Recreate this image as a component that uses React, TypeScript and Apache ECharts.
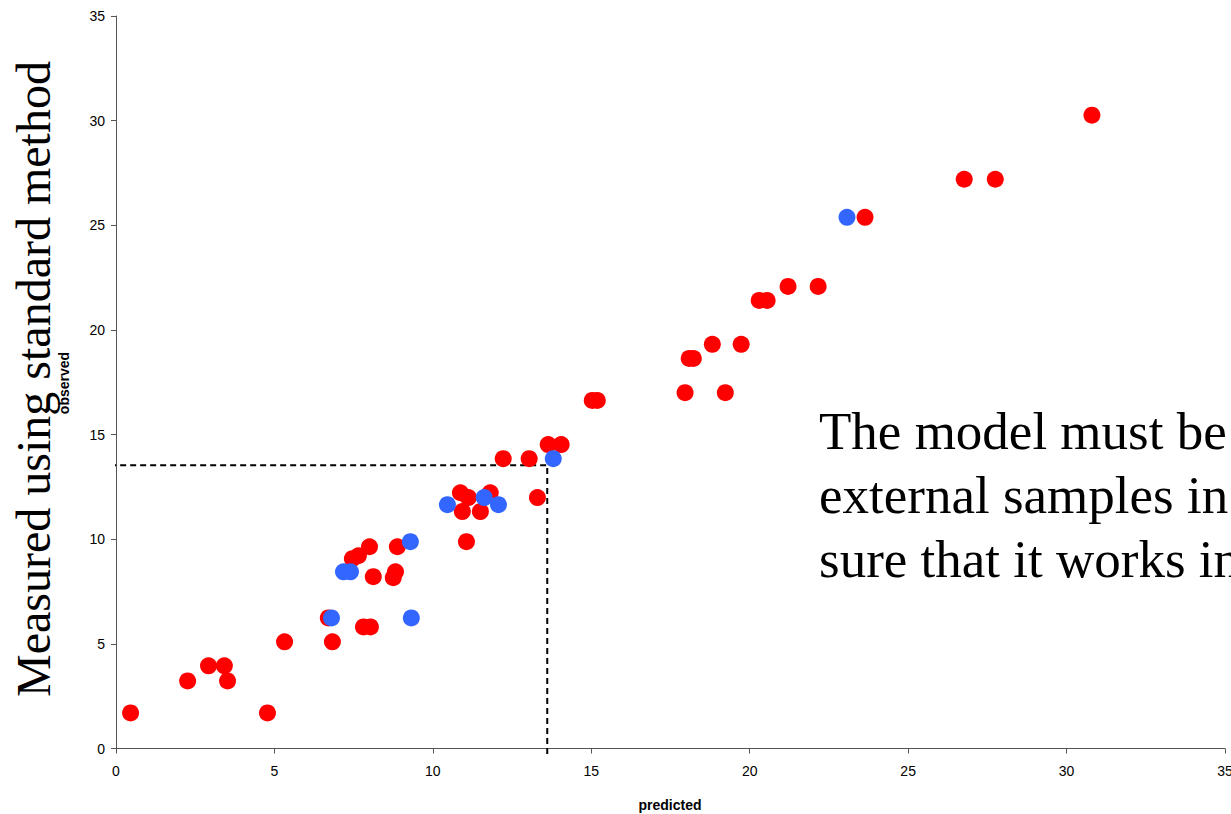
import React, { useEffect, useRef } from "react";
import * as echarts from "echarts";

const xTicks = [0, 5, 10, 15, 20, 25, 30, 35];
const yTicks = [0, 5, 10, 15, 20, 25, 30, 35];

const trainingPoints: [number, number][] = [
  [0.46, 1.7], [2.26, 3.23], [2.92, 3.95], [3.42, 3.95], [3.52, 3.23],
  [4.78, 1.7], [5.32, 5.1], [6.7, 6.24], [6.83, 5.1], [7.81, 5.81],
  [8.03, 5.81], [7.46, 9.07], [7.65, 9.21], [8.0, 9.64], [8.12, 8.21],
  [8.75, 8.16], [8.82, 8.44], [8.88, 9.64], [10.87, 12.22], [11.12, 11.99],
  [11.81, 12.22], [10.93, 11.32], [11.5, 11.32], [11.06, 9.88], [13.3, 11.99],
  [12.22, 13.85], [13.04, 13.85], [13.64, 14.52], [14.05, 14.52], [15.03, 16.63],
  [15.19, 16.63], [17.96, 17.0], [19.23, 17.0], [18.09, 18.64], [18.22, 18.64],
  [18.82, 19.31], [19.73, 19.31], [20.3, 21.41], [20.55, 21.41], [21.21, 22.08],
  [22.16, 22.08], [23.64, 25.38], [26.77, 27.2], [27.75, 27.2], [30.8, 30.26],
];

const testPoints: [number, number][] = [
  [6.8, 6.24], [7.18, 8.44], [7.4, 8.44], [9.29, 9.88], [9.32, 6.24],
  [10.46, 11.65], [11.62, 11.99], [12.07, 11.65], [13.8, 13.85], [23.07, 25.38],
];

const guideLine: [number, number][] = [
  [-0.5, 13.54], [13.61, 13.54], [13.61, -0.45],
];

const xAxisTitle = "predicted";
const yAxisTitle = "observed";
const bigYTitle = "Measured using standard method";
const noteLines = [
  "The model must be",
  "external samples in",
  "sure that it works in",
];

export default function App() {
  const ref = useRef<HTMLDivElement>(null);
  useEffect(() => {
    if (!ref.current) return;
    const chart = echarts.init(ref.current, null, { renderer: "svg" });
    const axisLine = { show: true, lineStyle: { color: "#555", width: 1 } };
    chart.setOption({
      animation: false,
      backgroundColor: "#fff",
      grid: {
        left: 116,
        right: 6,
        top: 16,
        bottom: 65.5,
        containLabel: false,
        outerBoundsMode: "none",
      },
      xAxis: {
        type: "value",
        min: xTicks[0],
        max: xTicks[xTicks.length - 1],
        interval: 5,
        axisLine,
        axisTick: { show: true, length: 5, lineStyle: { color: "#555" } },
        splitLine: { show: false },
        axisLabel: {
          color: "#000",
          fontSize: 14,
          fontFamily: "Liberation Sans, Arial, sans-serif",
          margin: 15,
        },
      },
      yAxis: {
        type: "value",
        min: yTicks[0],
        max: yTicks[yTicks.length - 1],
        interval: 5,
        axisLine,
        axisTick: { show: true, length: 5, lineStyle: { color: "#555" } },
        splitLine: { show: false },
        axisLabel: {
          color: "#000",
          fontSize: 14,
          fontFamily: "Liberation Sans, Arial, sans-serif",
          margin: 11,
        },
      },
      series: [
        {
          type: "line",
          data: guideLine,
          clip: false,
          symbol: "none",
          lineStyle: { color: "#000", width: 2, type: [6, 4] },
          z: 1,
        },
        {
          type: "scatter",
          data: trainingPoints,
          symbol: "circle",
          symbolSize: 17,
          itemStyle: { color: "#FF0000", opacity: 1 },
          z: 2,
        },
        {
          type: "scatter",
          data: testPoints,
          symbol: "circle",
          symbolSize: 17,
          itemStyle: { color: "#3366FF", opacity: 1 },
          z: 3,
        },
      ],
      graphic: [
        {
          type: "text",
          x: 670,
          y: 805,
          style: {
            text: xAxisTitle,
            font: "bold 14px 'Liberation Sans', Arial, sans-serif",
            fill: "#000",
            align: "center",
            verticalAlign: "middle",
          },
        },
        {
          type: "text",
          x: 64,
          y: 383,
          rotation: Math.PI / 2,
          style: {
            text: yAxisTitle,
            font: "bold 14px 'Liberation Sans', Arial, sans-serif",
            fill: "#000",
            align: "center",
            verticalAlign: "middle",
          },
        },
        {
          type: "text",
          x: 33,
          y: 379,
          rotation: Math.PI / 2,
          z: 10,
          style: {
            text: bigYTitle,
            font: "48px 'Liberation Serif', 'Times New Roman', serif",
            fill: "#000",
            align: "center",
            verticalAlign: "middle",
          },
        },
        ...noteLines.map((t, i) => ({
          type: "text",
          x: 819,
          y: 431 + i * 64,
          z: 10,
          style: {
            text: t,
            font: "53px 'Liberation Serif', 'Times New Roman', serif",
            fill: "#000",
            align: "left",
            verticalAlign: "middle",
          },
        })),
      ],
    });
    return () => chart.dispose();
  }, []);
  return (
    <div
      ref={ref}
      style={{ position: "fixed", left: 0, top: 0, width: 1231, height: 814, overflow: "hidden" }}
    />
  );
}
